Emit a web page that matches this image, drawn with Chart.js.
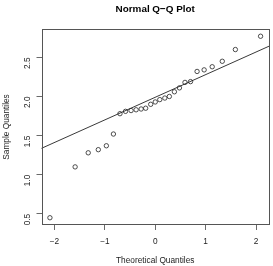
<!DOCTYPE html>
<html>
<head>
<meta charset="utf-8">
<script src="https://cdn.jsdelivr.net/npm/chart.js@4.4.1/dist/chart.umd.min.js"></script>
<style>
  html, body { margin: 0; padding: 0; background: #ffffff; }
  #wrap { width: 273px; height: 266px; }
</style>
</head>
<body>
<div id="wrap"><canvas id="c" width="273" height="266"></canvas></div>
<script>
// Theoretical quantiles (x) and sorted sample quantiles (y)
const theoretical = [-2.09, -1.59, -1.33, -1.13, -0.97, -0.83, -0.70, -0.59, -0.48, -0.38, -0.28, -0.19, -0.09, 0.00,
                     0.09, 0.19, 0.28, 0.38, 0.48, 0.59, 0.70, 0.83, 0.97, 1.13, 1.33, 1.59, 2.09];
const sample = [0.45, 1.10, 1.28, 1.32, 1.37, 1.52, 1.78, 1.81, 1.82, 1.83, 1.84, 1.85, 1.90, 1.93,
                1.96, 1.98, 2.00, 2.06, 2.11, 2.18, 2.19, 2.32, 2.34, 2.38, 2.45, 2.60, 2.77];
const xTicks = [-2, -1, 0, 1, 2];
const yTicks = [0.5, 1.0, 1.5, 2.0, 2.5];
const titleText = 'Normal Q\u2212Q Plot';
const xTitle = 'Theoretical Quantiles';
const yTitle = 'Sample Quantiles';

// R-style axis extension (4%)
function ext(arr) {
  const lo = Math.min(...arr), hi = Math.max(...arr), d = (hi - lo) * 0.04;
  return [lo - d, hi + d];
}
const [xMin, xMax] = ext(theoretical);
const [yMin, yMax] = ext(sample);

// qqline: line through the first and third quartiles (type 7)
function quant(arr, p) {
  const s = [...arr].sort((a, b) => a - b);
  const h = (s.length - 1) * p, lo = Math.floor(h);
  return s[lo] + (h - lo) * ((s[lo + 1] ?? s[lo]) - s[lo]);
}
const zq = 0.6744898;
const y25 = quant(sample, 0.25), y75 = quant(sample, 0.75);
const slope = (y75 - y25) / (2 * zq);
const intercept = y25 + slope * zq;
const lineXs = [xMin - 1, xMax + 1];

const FONT = '"Liberation Sans", Arial, Helvetica, sans-serif';
const minus = v => String(v).replace('-', '\u2212');

const boxPlugin = {
  id: 'box',
  afterDraw(chart) {
    const {ctx, chartArea: a} = chart;
    ctx.save();
    ctx.strokeStyle = '#555';
    ctx.lineWidth = 1;
    ctx.strokeRect(Math.round(a.left) + 0.5, Math.round(a.top) + 0.5,
                   Math.round(a.right - a.left) - 1, Math.round(a.bottom - a.top) - 1);
    ctx.restore();
  }
};

new Chart(document.getElementById('c'), {
  type: 'scatter',
  data: {
    datasets: [
      {
        data: theoretical.map((x, i) => ({x, y: sample[i]})),
        pointStyle: 'circle',
        pointRadius: 2.2,
        pointBorderWidth: 0.8,
        pointBorderColor: '#222',
        pointBackgroundColor: 'rgba(0,0,0,0)',
        pointHoverRadius: 2.2
      },
      {
        data: lineXs.map(x => ({x, y: intercept + slope * x})),
        showLine: true,
        borderColor: '#222',
        borderWidth: 0.9,
        pointRadius: 0,
        pointHoverRadius: 0
      }
    ]
  },
  options: {
    responsive: false,
    animation: false,
    devicePixelRatio: 1,
    events: [],
    layout: { padding: { top: 0, right: 4, left: 0, bottom: 0 } },
    plugins: {
      legend: { display: false },
      tooltip: { enabled: false },
      title: {
        display: true,
        text: titleText,
        fullSize: false,
        color: '#000',
        font: { family: FONT, size: 9.9, weight: 'bold', lineHeight: 1.2 },
        padding: { top: 3, bottom: 14.1 }
      }
    },
    scales: {
      x: {
        type: 'linear',
        min: xMin, max: xMax,
        afterBuildTicks: s => { s.ticks = xTicks.map(v => ({value: v})); },
        afterFit: s => { s.height = 41; },
        grid: { display: true, drawOnChartArea: false, drawTicks: true, tickLength: 5, color: '#444', lineWidth: 0.8 },
        border: { display: false },
        ticks: { color: '#222', font: { family: FONT, size: 8.3 }, padding: 7, maxRotation: 0, minRotation: 0,
                 callback: v => minus(v) },
        title: { display: true, text: xTitle, color: '#222', font: { family: FONT, size: 8.3 }, padding: { top: 0, bottom: 0 } }
      },
      y: {
        type: 'linear',
        min: yMin, max: yMax,
        afterBuildTicks: s => { s.ticks = yTicks.map(v => ({value: v})); },
        afterFit: s => { s.width = 41.5; },
        grid: { display: true, drawOnChartArea: false, drawTicks: true, tickLength: 5, color: '#444', lineWidth: 0.8 },
        border: { display: false },
        ticks: { color: '#222', font: { family: FONT, size: 8.3 }, padding: 9, minRotation: 90, maxRotation: 90,
                 callback: v => Number(v).toFixed(1) },
        title: { display: true, text: yTitle, color: '#222', font: { family: FONT, size: 8.3 }, padding: { top: 2, bottom: 0 } }
      }
    }
  },
  plugins: [boxPlugin]
});
</script>
</body>
</html>
